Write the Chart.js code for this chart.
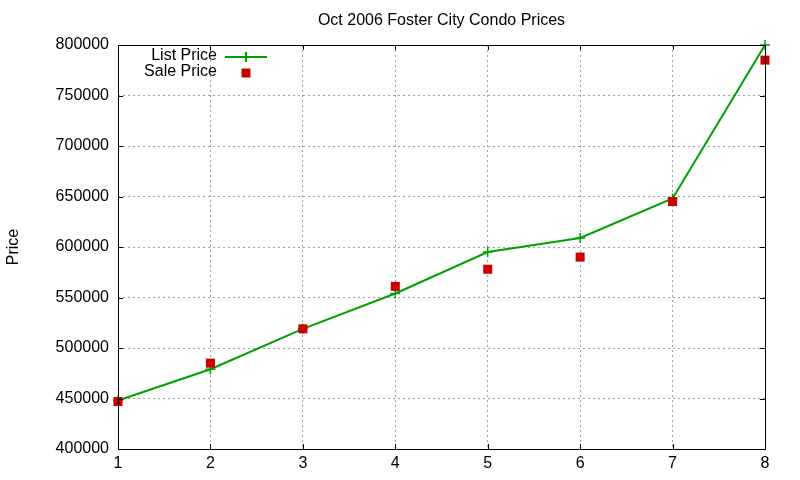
<!DOCTYPE html>
<html>
<head>
<meta charset="utf-8">
<script src="https://cdn.jsdelivr.net/npm/chart.js@4/dist/chart.umd.min.js"></script>
<style>
  html, body { margin: 0; padding: 0; background: #ffffff; }
  #wrap { width: 800px; height: 480px; }
</style>
</head>
<body>
<div id="wrap"><canvas id="c" width="800" height="480"></canvas></div>
<script>
const xValues = [1, 2, 3, 4, 5, 6, 7, 8];
const listPrice = [448000, 479000, 519000, 554000, 595000, 609000, 648000, 800000];
const salePrice = [447000, 485000, 519000, 561000, 578000, 590000, 645000, 785000];
const yTicks = [400000, 450000, 500000, 550000, 600000, 650000, 700000, 750000, 800000];
const seriesNames = ['List Price', 'Sale Price'];
const chartTitle = 'Oct 2006 Foster City Condo Prices';
const yTitle = 'Price';

const GREEN = '#00a000';
const RED = '#cc0000';
const FONT = '"Liberation Sans", Arial, sans-serif';

const borderPlugin = {
  id: 'gpBorder',
  afterDatasetsDraw(chart) {
    const { ctx, chartArea: a, scales } = chart;
    ctx.save();
    ctx.strokeStyle = '#000';
    ctx.lineWidth = 1;
    ctx.beginPath();
    const tl = 5;
    scales.y.ticks.forEach(t => {
      const py = Math.round(scales.y.getPixelForValue(t.value)) + 0.5;
      ctx.moveTo(a.left, py); ctx.lineTo(a.left + tl, py);
      ctx.moveTo(a.right, py); ctx.lineTo(a.right - tl, py);
    });
    scales.x.ticks.forEach(t => {
      const px = Math.round(scales.x.getPixelForValue(t.value)) + 0.5;
      ctx.moveTo(px, a.bottom); ctx.lineTo(px, a.bottom - tl);
      ctx.moveTo(px, a.top); ctx.lineTo(px, a.top + tl);
    });
    ctx.stroke();
    ctx.strokeRect(Math.round(a.left) + 0.5, Math.round(a.top) + 0.5,
                   Math.round(a.right - a.left), Math.round(a.bottom - a.top));
    // title, centred over the plot area
    ctx.font = '16px ' + FONT;
    ctx.fillStyle = '#000';
    ctx.textAlign = 'center';
    ctx.textBaseline = 'middle';
    ctx.fillText(chartTitle, (a.left + a.right) / 2, 21);
    // legend
    ctx.textAlign = 'right';
    const lx = a.left + 99;
    const y1 = a.top + 11, y2 = a.top + 27;
    ctx.fillText(seriesNames[0], lx, y1);
    ctx.fillText(seriesNames[1], lx, y2);
    ctx.strokeStyle = GREEN;
    ctx.lineWidth = 2;
    ctx.beginPath();
    ctx.moveTo(a.left + 107, y1 + 1); ctx.lineTo(a.left + 149, y1 + 1);
    ctx.moveTo(a.left + 128, y1 - 4); ctx.lineTo(a.left + 128, y1 + 6);
    ctx.stroke();
    ctx.fillStyle = RED;
    ctx.fillRect(a.left + 128 - 4.5, y2 - 3.5, 9, 9);
    ctx.restore();
  }
};

new Chart(document.getElementById('c'), {
  type: 'line',
  data: {
    datasets: [
      {
        label: seriesNames[0],
        data: xValues.map((x, i) => ({ x, y: listPrice[i] })),
        order: 1,
        borderColor: GREEN,
        backgroundColor: GREEN,
        borderWidth: 2,
        pointStyle: 'cross',
        pointRadius: 5,
        pointBorderWidth: 1.5,
        pointBorderColor: GREEN,
        tension: 0,
        fill: false,
        clip: false
      },
      {
        label: seriesNames[1],
        data: xValues.map((x, i) => ({ x, y: salePrice[i] })),
        order: 0,
        showLine: false,
        pointStyle: 'rect',
        pointRadius: 6.4,
        pointBorderWidth: 0,
        backgroundColor: RED,
        borderColor: RED,
        clip: false
      }
    ]
  },
  options: {
    responsive: false,
    animation: false,
    events: [],
    layout: { padding: { left: 0, right: 35, top: 45, bottom: 0 } },
    plugins: {
      legend: { display: false },
      tooltip: { enabled: false },
      title: { display: false }
    },
    scales: {
      x: {
        type: 'linear',
        min: 1, max: 8,
        afterFit: s => { s.height = 31; },
        ticks: { stepSize: 1, color: '#000', padding: 5, font: { family: FONT, size: 16 } },
        border: { display: false },
        grid: { color: '#a0a0a0', lineWidth: 1, drawTicks: false, tickLength: 0 },
        afterBuildTicks: s => { s.ticks = xValues.map(v => ({ value: v })); }
      },
      y: {
        type: 'linear',
        min: 400000, max: 800000,
        afterFit: s => { s.width = 118; },
        afterBuildTicks: s => { s.ticks = yTicks.map(v => ({ value: v })); },
        ticks: { color: '#000', padding: 9, font: { family: FONT, size: 16 }, callback: v => String(v) },
        border: { display: false },
        grid: { color: '#a0a0a0', lineWidth: 1, drawTicks: false, tickLength: 0 },
        title: { display: true, text: yTitle, color: '#000', font: { family: FONT, size: 16 }, padding: { top: 4, bottom: 0 } }
      }
    }
  },
  plugins: [{
    id: 'dashGrid',
    beforeDraw(chart) {
      ['x', 'y'].forEach(k => {
        chart.options.scales[k].grid.borderDash = [2, 3];
        chart.scales[k].options.border.dash = [2, 3];
      });
    }
  }, borderPlugin]
});
</script>
</body>
</html>
